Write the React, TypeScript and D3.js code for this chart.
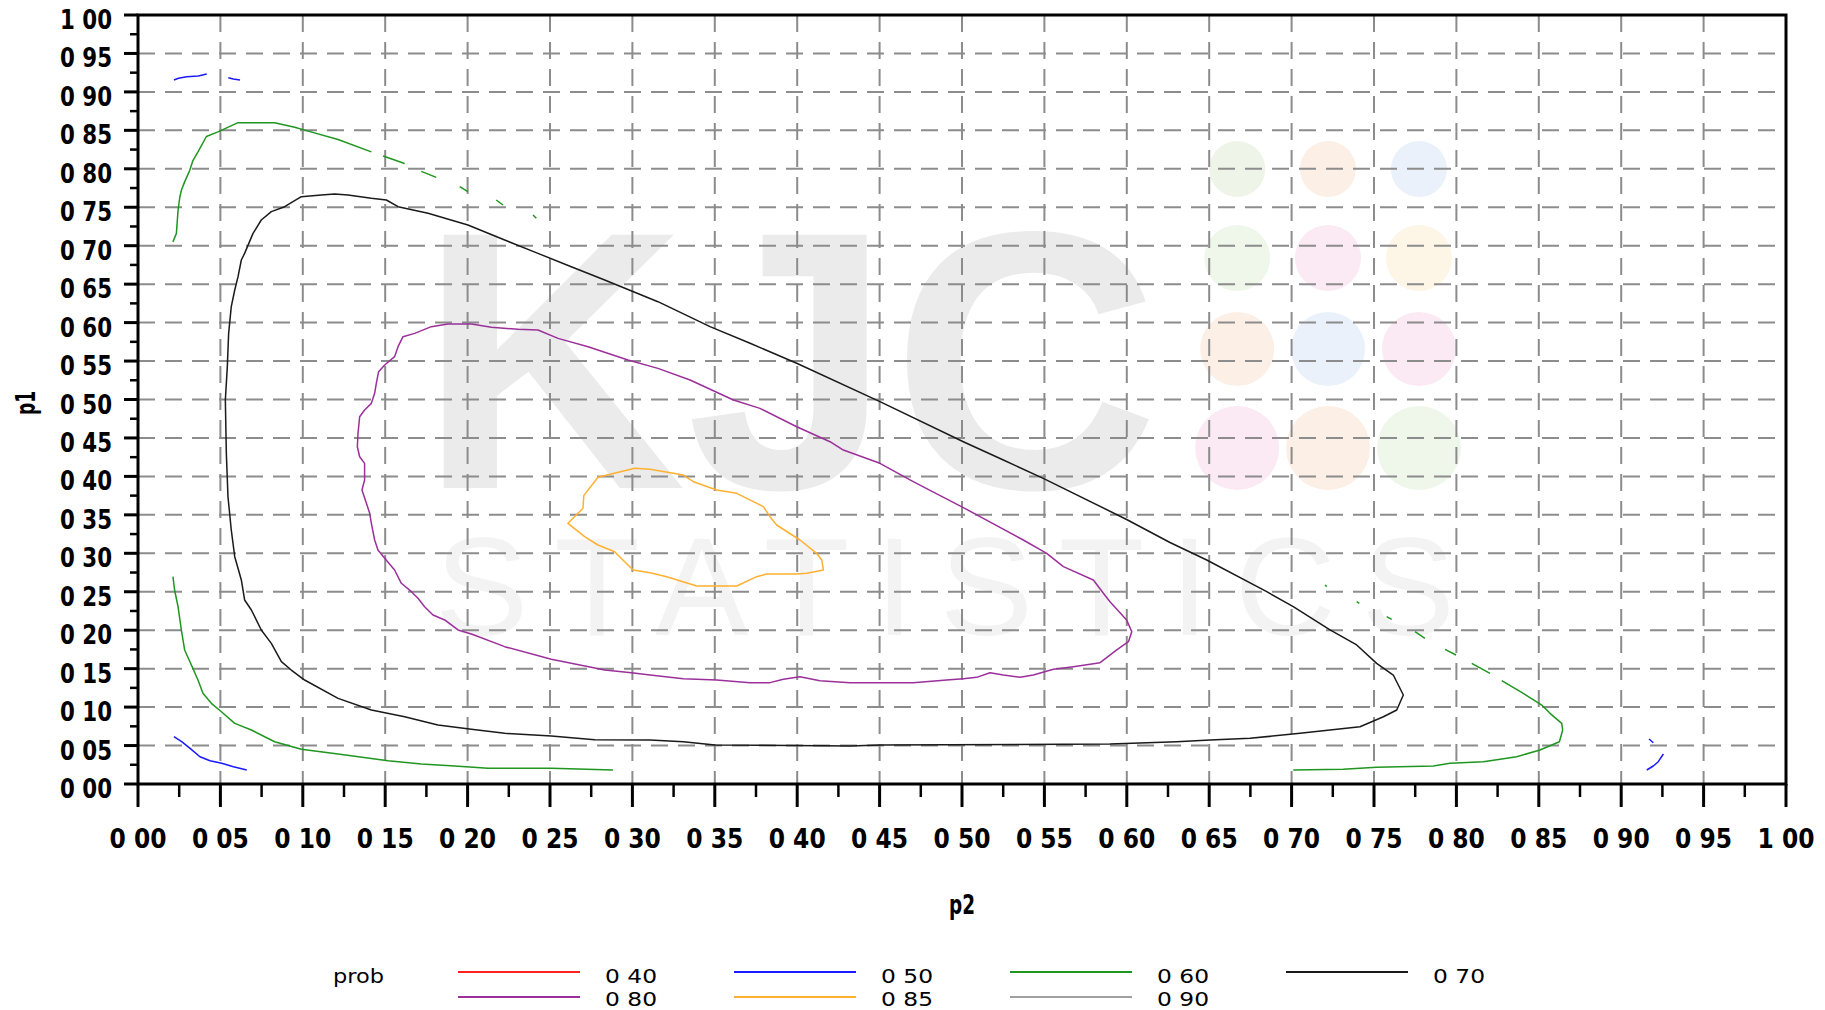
import * as d3 from 'd3'

// contour levels of prob over (p2, p1); points are [p2, p1]
const legendLevels = ['0.40', '0.50', '0.60', '0.70', '0.80', '0.85', '0.90']
const legendColors = ['#ff2020', '#1a1aff', '#1f961f', '#1a1a1a', '#9b309b', '#ffb030', '#a0a0a0']

const level50Pieces: [number, number][][] = [
  [[0.0218, 0.9155], [0.0245, 0.9177], [0.0295, 0.9198], [0.0366, 0.9207], [0.0417, 0.9233]],
  [[0.0548, 0.9185], [0.0578, 0.9168], [0.0619, 0.9155]],
  [[0.0218, 0.0615], [0.0265, 0.055], [0.0316, 0.0464], [0.0376, 0.0355], [0.0437, 0.0303], [0.0508, 0.0269], [0.0579, 0.0225], [0.066, 0.0182]],
  [[0.9169, 0.0585], [0.9195, 0.0537]],
  [[0.9256, 0.039], [0.9225, 0.029], [0.9195, 0.0234], [0.9155, 0.0182]],
]

const level60Pieces: [number, number][][] = [
  [[0.0212, 0.705], [0.0233, 0.716], [0.0243, 0.746], [0.0253, 0.762], [0.0263, 0.772], [0.0283, 0.783], [0.0314, 0.798],
    [0.0334, 0.811], [0.0364, 0.822], [0.0415, 0.842], [0.0485, 0.848], [0.0607, 0.86], [0.0829, 0.86], [0.0951, 0.854],
    [0.1032, 0.849], [0.1214, 0.838], [0.1416, 0.822]],
  [[0.1487, 0.8166], [0.1618, 0.807]],
  [[0.1719, 0.7966], [0.181, 0.7888]],
  [[0.1952, 0.7767], [0.2002, 0.7702]],
  [[0.2174, 0.7594], [0.2215, 0.7529]],
  [[0.2397, 0.7399], [0.2417, 0.7356]],
  [[0.0212, 0.2696], [0.0222, 0.2523], [0.0243, 0.2306], [0.0263, 0.2003], [0.0283, 0.1743], [0.0324, 0.1547], [0.0364, 0.1352],
    [0.0394, 0.1179], [0.0445, 0.1049], [0.0506, 0.094], [0.0587, 0.0789], [0.0688, 0.0702], [0.0829, 0.055], [0.0991, 0.0451],
    [0.1214, 0.039], [0.1517, 0.0303], [0.1719, 0.026], [0.1922, 0.0234], [0.2124, 0.0204], [0.2508, 0.0204], [0.2882, 0.0182]],
  [[0.7203, 0.2588], [0.7213, 0.2567]],
  [[0.7395, 0.2371], [0.7411, 0.2349]],
  [[0.7577, 0.2176], [0.7607, 0.2141]],
  [[0.7749, 0.1981], [0.7809, 0.1894]],
  [[0.7931, 0.1751], [0.7998, 0.1677]],
  [[0.8093, 0.1569], [0.8204, 0.1439]],
  [[0.8275, 0.1343], [0.8406, 0.1179], [0.8518, 0.1027], [0.8568, 0.0919], [0.8639, 0.0789], [0.8645, 0.0702], [0.8625, 0.055],
    [0.8507, 0.0442], [0.8366, 0.0355], [0.8164, 0.029], [0.7961, 0.0269], [0.786, 0.0234], [0.7516, 0.0217], [0.7314, 0.0191], [0.701, 0.0182]],
]

const level70: [number, number][] = [
  [0.7678, 0.1157], [0.7638, 0.0962], [0.7557, 0.0875], [0.7415, 0.0745], [0.7051, 0.0659], [0.6748, 0.0594], [0.6505, 0.0572],
  [0.6303, 0.055], [0.5898, 0.052], [0.4502, 0.0507], [0.432, 0.0494], [0.3501, 0.0507], [0.3309, 0.055], [0.3107, 0.0572],
  [0.2771, 0.0575], [0.2508, 0.0624], [0.2225, 0.0659], [0.2023, 0.0711], [0.182, 0.0767], [0.1618, 0.0875], [0.1416, 0.0962],
  [0.1214, 0.1114], [0.1011, 0.1352], [0.093, 0.1482], [0.087, 0.1591], [0.0809, 0.1829], [0.0748, 0.2003], [0.0688, 0.2263],
  [0.0647, 0.2393], [0.0627, 0.2653], [0.0587, 0.2956], [0.0566, 0.3303], [0.0546, 0.3736], [0.0536, 0.43], [0.053, 0.4994],
  [0.0542, 0.5427], [0.055, 0.586], [0.0566, 0.6207], [0.0587, 0.6424], [0.0607, 0.6597], [0.0627, 0.6814], [0.0647, 0.69],
  [0.0698, 0.716], [0.0748, 0.7334], [0.0809, 0.7443], [0.089, 0.7507], [0.0991, 0.7637], [0.1112, 0.766], [0.1193, 0.7672],
  [0.1274, 0.766], [0.1416, 0.7616], [0.1507, 0.7594], [0.1578, 0.7507], [0.176, 0.7421], [0.2002, 0.7269], [0.2225, 0.7074],
  [0.2427, 0.69], [0.2629, 0.6727], [0.2832, 0.6554], [0.3155, 0.6272], [0.3471, 0.5947], [0.3714, 0.5731], [0.3997, 0.5471],
  [0.4502, 0.4972], [0.5008, 0.4451], [0.5251, 0.4213], [0.5493, 0.3975], [0.5999, 0.344], [0.6262, 0.314], [0.6485, 0.2913],
  [0.6849, 0.2501], [0.701, 0.2306], [0.7233, 0.2003], [0.7395, 0.1808], [0.7516, 0.1569], [0.7617, 0.1417],
]

const level80: [number, number][] = [
  [0.603, 0.1981], [0.601, 0.1851], [0.5939, 0.1743], [0.5838, 0.1578], [0.5676, 0.1526], [0.5554, 0.1491], [0.5433, 0.1417],
  [0.5352, 0.1387], [0.5251, 0.1417], [0.517, 0.1447], [0.5089, 0.1387], [0.5008, 0.137], [0.4907, 0.1352], [0.4704, 0.1318],
  [0.432, 0.1318], [0.4138, 0.1344], [0.4017, 0.1396], [0.3916, 0.1361], [0.3835, 0.1318], [0.3714, 0.1318], [0.3511, 0.1352],
  [0.3309, 0.137], [0.3107, 0.1417], [0.2994, 0.1447], [0.2832, 0.1482], [0.2629, 0.157], [0.2508, 0.1621], [0.2225, 0.1786],
  [0.2023, 0.1951], [0.1942, 0.2003], [0.1861, 0.2133], [0.179, 0.2198], [0.1739, 0.2306], [0.1699, 0.2415], [0.1659, 0.2501],
  [0.1598, 0.261], [0.1557, 0.2783], [0.1497, 0.2935], [0.1456, 0.3043], [0.1436, 0.3173], [0.1416, 0.339], [0.1406, 0.352],
  [0.1386, 0.365], [0.1359, 0.3823], [0.1375, 0.3953], [0.1375, 0.417], [0.1345, 0.4256], [0.1331, 0.4386], [0.1335, 0.456],
  [0.1345, 0.4776], [0.1375, 0.4863], [0.1416, 0.495], [0.1436, 0.508], [0.1446, 0.521], [0.146, 0.5362], [0.1497, 0.5449],
  [0.1557, 0.5557], [0.1578, 0.5687], [0.1608, 0.5817], [0.1679, 0.586], [0.178, 0.5947], [0.1881, 0.5982], [0.2023, 0.5982],
  [0.2144, 0.5939], [0.2306, 0.5912], [0.2427, 0.5904], [0.2549, 0.5795], [0.2731, 0.5687], [0.2973, 0.5514], [0.3155, 0.5405],
  [0.335, 0.5254], [0.3613, 0.4994], [0.3774, 0.4885], [0.3997, 0.4646], [0.4199, 0.4451], [0.428, 0.4343], [0.4502, 0.417],
  [0.4704, 0.3931], [0.5008, 0.3595], [0.5129, 0.3455], [0.5372, 0.3173], [0.5514, 0.3], [0.5615, 0.2826], [0.5797, 0.2653],
  [0.5858, 0.248], [0.5898, 0.2371], [0.5999, 0.2133],
]

const level85: [number, number][] = [
  [0.2609, 0.339], [0.27, 0.3585], [0.2705, 0.375], [0.2791, 0.399], [0.3014, 0.4105], [0.3107, 0.4092], [0.3309, 0.4018],
  [0.337, 0.3931], [0.3511, 0.3823], [0.3633, 0.378], [0.3795, 0.3606], [0.3835, 0.3476], [0.3875, 0.3368], [0.4017, 0.3173],
  [0.4118, 0.3], [0.4149, 0.2913], [0.4159, 0.2783], [0.4058, 0.274], [0.3997, 0.2731], [0.3815, 0.2731], [0.3754, 0.2696],
  [0.3633, 0.2575], [0.339, 0.2575], [0.3208, 0.2696], [0.3107, 0.2748], [0.3004, 0.2783], [0.2892, 0.302], [0.2791, 0.3108],
  [0.271, 0.3216],
]

const majorTicks = d3.range(0, 1.0001, 0.05)
const minorTicks = d3.range(0.025, 1, 0.05)

// watermark
const badgeCols = [0.667, 0.7221, 0.7773]
const badgeRows = [0.7997, 0.684, 0.5657, 0.4369]
const badgeRadius = [28, 33, 37, 42]
const badgeFills = [
  ['#eef5e8', '#fcefe6', '#eaf1fa'],
  ['#eff6ea', '#fbe9f3', '#fdf5e6'],
  ['#fcefe6', '#eaf1fa', '#fbe9f3'],
  ['#fbe9f3', '#fcefe6', '#eff6ea'],
]

const fmt = (v: number) => v.toFixed(2).replace('.', ' ')

export default function App() {
  const W = 1825
  const H = 1010
  const x = d3.scaleLinear().domain([0, 1]).range([138, 1786])
  const y = d3.scaleLinear().domain([0, 1]).range([784, 15])
  const line = d3.line<[number, number]>().x(d => x(d[0])).y(d => y(d[1]))
  const closed = (pts: [number, number][]) => line(pts) + 'Z'

  const tickFont = '"DejaVu Sans", sans-serif'
  const gridColor = '#8c8c8c'

  return (
    <svg width={W} height={H} style={{ position: 'absolute', left: 0, top: 0, background: '#fff' }}>
      {/* watermark */}
      <g>
        <text x={789} y={488} textAnchor="middle" fontFamily='"Liberation Sans", Arial, sans-serif' fontWeight="bold"
          fontSize={368} fill="#ebebeb" textLength={740} lengthAdjust="spacingAndGlyphs">KJC</text>
        <text x={945} y={635} textAnchor="middle" fontFamily='"Liberation Sans", Arial, sans-serif'
          fontSize={140} fill="#f3f3f3" textLength={1020} lengthAdjust="spacing">STATISTICS</text>
        {badgeRows.map((ry, i) => badgeCols.map((cx, j) => (
          <circle key={`${i}-${j}`} cx={x(cx)} cy={y(ry)} r={badgeRadius[i]} fill={badgeFills[i][j]} />
        )))}
      </g>

      {/* grid */}
      <g stroke={gridColor} strokeWidth={2} strokeDasharray="17 10">
        {majorTicks.slice(1, -1).map(v => (
          <line key={'gx' + v} x1={x(v)} x2={x(v)} y1={y(1)} y2={y(0)} />
        ))}
        {majorTicks.slice(1, -1).map(v => (
          <line key={'gy' + v} x1={x(0)} x2={x(1)} y1={y(v)} y2={y(v)} />
        ))}
      </g>

      {/* contours */}
      <g fill="none" strokeWidth={1.5} strokeLinejoin="round">
        {level50Pieces.map((p, i) => <path key={'b' + i} d={line(p) || ''} stroke={legendColors[1]} />)}
        {level60Pieces.map((p, i) => <path key={'g' + i} d={line(p) || ''} stroke={legendColors[2]} />)}
        <path d={closed(level70)} stroke={legendColors[3]} />
        <path d={closed(level80)} stroke={legendColors[4]} />
        <path d={closed(level85)} stroke={legendColors[5]} />
      </g>

      {/* frame */}
      <rect x={x(0)} y={y(1)} width={x(1) - x(0)} height={y(0) - y(1)} fill="none" stroke="#000" strokeWidth={3} />

      {/* y axis */}
      <g stroke="#000">
        {majorTicks.map(v => <line key={'ly' + v} x1={x(0) - 14} x2={x(0)} y1={y(v)} y2={y(v)} strokeWidth={3} />)}
        {minorTicks.map(v => <line key={'lym' + v} x1={x(0) - 8} x2={x(0)} y1={y(v)} y2={y(v)} strokeWidth={2.5} />)}
      </g>
      <g fontFamily={tickFont} fontWeight="bold" fontSize={26} fill="#000">
        {majorTicks.map(v => (
          <text key={'ty' + v} x={112} y={y(v) + 14} textAnchor="end" textLength={52} lengthAdjust="spacingAndGlyphs">{fmt(v)}</text>
        ))}
      </g>

      {/* x axis */}
      <g stroke="#000">
        {majorTicks.map(v => <line key={'lx' + v} x1={x(v)} x2={x(v)} y1={y(0)} y2={y(0) + 23} strokeWidth={3} />)}
        {minorTicks.map(v => <line key={'lxm' + v} x1={x(v)} x2={x(v)} y1={y(0)} y2={y(0) + 13} strokeWidth={2.5} />)}
      </g>
      <g fontFamily={tickFont} fontWeight="bold" fontSize={26} fill="#000">
        {majorTicks.map(v => (
          <text key={'tx' + v} x={x(v)} y={848} textAnchor="middle" textLength={57} lengthAdjust="spacingAndGlyphs">{fmt(v)}</text>
        ))}
      </g>

      {/* axis titles */}
      <text transform="translate(35,403) rotate(-90)" textAnchor="middle" fontFamily={tickFont} fontWeight="bold"
        fontSize={26} textLength={24} lengthAdjust="spacingAndGlyphs">p1</text>
      <text x={962} y={914} textAnchor="middle" fontFamily={tickFont} fontWeight="bold"
        fontSize={26} textLength={26} lengthAdjust="spacingAndGlyphs">p2</text>

      {/* legend */}
      <g fontFamily={tickFont} fontSize={19} fill="#000">
        <text x={333} y={983} fontSize={19} textLength={51} lengthAdjust="spacingAndGlyphs">prob</text>
        {legendLevels.map((lv, i) => {
          const col = i % 4
          const row = Math.floor(i / 4)
          const lx = 458 + col * 276
          const ly = 972 + row * 25
          return (
            <g key={lv}>
              <line x1={lx} x2={lx + 122} y1={ly} y2={ly} stroke={legendColors[i]} strokeWidth={2.2} />
              <text x={lx + 147} y={983 + row * 23} textLength={52} lengthAdjust="spacingAndGlyphs">{lv.replace('.', ' ')}</text>
            </g>
          )
        })}
      </g>
    </svg>
  )
}
